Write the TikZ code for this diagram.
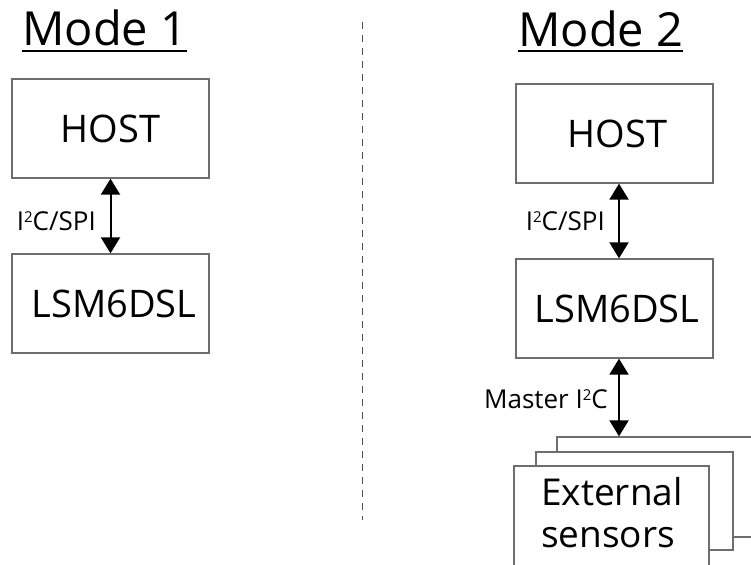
\documentclass[tikz,border=0pt]{standalone}
\usepackage{fontspec}
\setmainfont{Open Sans}
\usetikzlibrary{arrows.meta}
\definecolor{boxgray}{HTML}{6E6E6E}
\definecolor{dashgray}{HTML}{505050}
\newcommand\suptwo{\raisebox{8pt}{\fontsize{15}{15}\selectfont 2}}
\begin{document}
\begin{tikzpicture}[x=1pt,y=-1pt,
  blk/.style={draw=boxgray, line width=1.3pt, fill=white, minimum width=197pt, minimum height=99pt, inner sep=0pt, font=\fontsize{38}{42}\selectfont},
  sens/.style={draw=boxgray, line width=1.3pt, fill=white, inner sep=0pt},
  link/.style={{Triangle[width=19pt,length=16pt]}-{Triangle[width=19pt,length=16pt]}, line width=2pt, black},
  lbl/.style={inner sep=0pt, font=\fontsize{26}{28}\selectfont, anchor=base east},
  ttl/.style={inner sep=0pt, font=\fontsize{47}{52}\selectfont, anchor=base west}
]
\useasboundingbox (0,0) rectangle (751,564);
\clip (0,0) rectangle (751,564);
% titles
\node[ttl] (m1) at (22,46) {Mode 1};
\draw[line width=1.6pt] ([yshift=-5pt]m1.base west) -- ([yshift=-5pt]m1.base east);
\node[ttl] (m2) at (518,47) {Mode 2};
\draw[line width=1.6pt] ([yshift=-4pt]m2.base west) -- ([yshift=-4pt]m2.base east);
% separator
\coordinate (st) at (362,22);
\coordinate (sb) at (362,520);
\draw[dashgray, line width=1pt, dash pattern=on 7pt off 6pt] (st) -- (sb);
% mode 1
\node[blk] (h1) at (110.5,128.5) {HOST};
\node[blk] (l1) at (110.5,303.5) {\hspace*{7pt}LSM6DSL};
\draw[link] (h1.south) -- (l1.north);
\node[lbl] (t1) at (96,230) {I\suptwo C/SPI};
% mode 2
\node[blk] (h2) at (614.5,133.5) {\hspace*{6pt}HOST};
\node[blk] (l2) at (614.5,308.5) {\hspace*{5pt}LSM6DSL};
\draw[link] ([xshift=4.5pt]h2.south) -- ([xshift=4.5pt]l2.north);
\node[lbl] (t2) at (605,230) {I\suptwo C/SPI};
% external sensors stack
\node[sens, minimum width=238pt, minimum height=100pt] (e3) at (676,487) {};
\node[sens, minimum width=197pt, minimum height=98pt] (e2) at (634.5,501) {};
\node[sens, minimum width=195pt, minimum height=100pt] (e1) at (611.5,516) {};
\draw[link] ([xshift=4.5pt]l2.south) -- ([xshift=4.5pt]l2.south |- e3.north);
\node[lbl] (t3) at (608,408) {Master I\suptwo C};
\node[inner sep=0pt, anchor=base west, font=\fontsize{37}{42}\selectfont] (x1) at (541,505) {External};
\node[inner sep=0pt, anchor=base west, font=\fontsize{37}{42}\selectfont] (x2) at (541,547) {sensors};
\end{tikzpicture}
\end{document}
